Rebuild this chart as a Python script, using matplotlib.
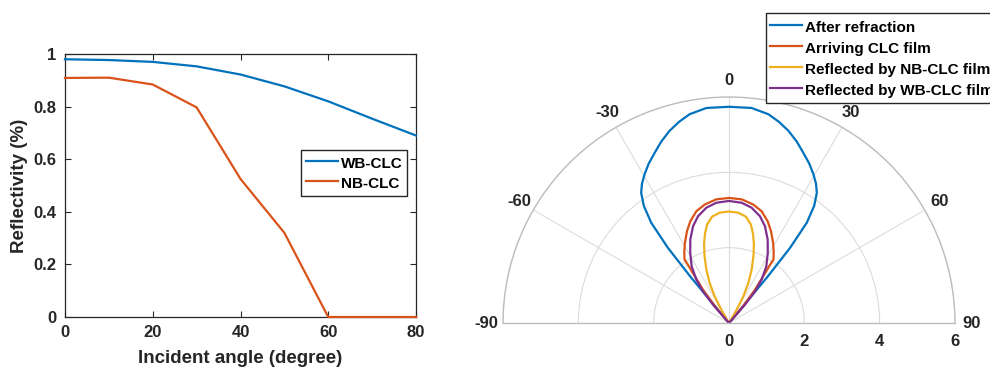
import numpy as np
import matplotlib
matplotlib.use('Agg')
import matplotlib.pyplot as plt

plt.rcParams['font.family'] = ['Liberation Sans', 'DejaVu Sans']
plt.rcParams['font.weight'] = 'bold'

# ---------------- data: left panel ----------------
incident_angle = [0, 10, 20, 30, 40, 50, 60, 70, 80]
wb_clc = [0.980, 0.977, 0.970, 0.953, 0.922, 0.877, 0.820, 0.754, 0.690]
nb_clc = [0.909, 0.910, 0.884, 0.797, 0.525, 0.320, 0.0, 0.0, 0.0]
x_ticks = [0, 20, 40, 60, 80]
y_ticks = [0, 0.2, 0.4, 0.6, 0.8, 1.0]
y_tick_labels = ['0', '0.2', '0.4', '0.6', '0.8', '1']

# ---------------- data: right panel (angle in degrees, radius) ----------------
theta_after = [-40, -39.8, -39.1, -37.8, -36, -34, -32, -29.6, -26.7, -23.6, -20.5, -17.2, -14, -10.7, -6, 0,
               6, 10.7, 14, 17.2, 20.5, 23.6, 26.7, 29.6, 32, 34, 36, 37.8, 39.1, 39.8, 40]
r_after = [0, 1.6, 2.57, 3.37, 3.85, 4.17, 4.36, 4.54, 4.74, 4.93, 5.14, 5.34, 5.50, 5.64, 5.74, 5.74,
           5.74, 5.64, 5.50, 5.34, 5.14, 4.93, 4.74, 4.54, 4.36, 4.17, 3.85, 3.37, 2.57, 1.6, 0]

theta_arriving = [-41, -40.2, -38, -35.2, -35, -32, -28.8, -24.6, -20.8, -16.3, -11.6, -5.9, 0,
                  5.9, 11.6, 16.3, 20.8, 24.6, 28.8, 32, 35, 35.2, 38, 40.2, 41]
r_arriving = [0, 0.52, 1.12, 1.90, 2.06, 2.24, 2.43, 2.68, 2.89, 3.09, 3.21, 3.30, 3.32,
              3.30, 3.21, 3.09, 2.89, 2.68, 2.43, 2.24, 2.06, 1.90, 1.12, 0.52, 0]

theta_nb = [-31, -30, -28.3, -25.8, -23, -20, -17.5, -15, -12.5, -9, -4.8, 0,
            4.8, 9, 12.5, 15, 17.5, 20, 23, 25.8, 28.3, 30, 31]
r_nb = [0, 0.41, 0.80, 1.18, 1.54, 1.90, 2.20, 2.46, 2.68, 2.86, 2.94, 2.96,
        2.94, 2.86, 2.68, 2.46, 2.20, 1.90, 1.54, 1.18, 0.80, 0.41, 0]

theta_wb = [-42, -41.1, -39.4, -37, -33.4, -28.9, -24.9, -20.4, -16.2, -11.1, -6, 0,
            6, 11.1, 16.2, 20.4, 24.9, 28.9, 33.4, 37, 39.4, 41.1, 42]
r_wb = [0, 0.65, 1.09, 1.44, 1.80, 2.13, 2.44, 2.74, 2.95, 3.12, 3.21, 3.24,
        3.21, 3.12, 2.95, 2.74, 2.44, 2.13, 1.80, 1.44, 1.09, 0.65, 0]

theta_ticks = [-90, -60, -30, 0, 30, 60, 90]
theta_tick_labels = ['-90', '-60', '-30', '0', '30', '60', '90']
r_ticks = [0, 2, 4, 6]
r_tick_labels = ['0', '2', '4', '6']

TXT = '#262626'
BLUE, ORANGE, YELLOW, PURPLE = '#0072BD', '#D95319', '#EDB120', '#7E2F8E'

fig = plt.figure(figsize=(9.9, 3.67), dpi=100)

# ---------------- left panel ----------------
ax = fig.add_axes([65 / 990, 1 - 317 / 367, 351 / 990, 263 / 367])
ax.plot(incident_angle, wb_clc, color=BLUE, lw=1.6, label='WB-CLC', zorder=3, clip_on=False)
ax.plot(incident_angle, nb_clc, color=ORANGE, lw=1.6, label='NB-CLC', zorder=3, clip_on=False)
ax.set_xlim(0, 80)
ax.set_ylim(0, 1)
ax.set_xticks(x_ticks)
ax.set_xticklabels([str(v) for v in x_ticks])
ax.set_yticks(y_ticks)
ax.set_yticklabels(y_tick_labels)
ax.tick_params(direction='in', top=True, right=True, length=4, width=0.8,
               labelsize=12, colors=TXT, pad=6)
for s in ax.spines.values():
    s.set_color(TXT)
    s.set_linewidth(0.9)
ax.set_xlabel('Incident angle (degree)', fontsize=13.5, color=TXT, fontweight='bold')
ax.set_ylabel('Reflectivity (%)', fontsize=13.5, color=TXT, fontweight='bold')
ax.xaxis.set_label_coords(0.5, -0.125)
ax.yaxis.set_label_coords(-0.105, 0.5)
leg = ax.legend(loc='upper left', bbox_to_anchor=(301 / 990, 1 - 150 / 367),
                bbox_transform=fig.transFigure, fontsize=11, fancybox=False,
                edgecolor=TXT, borderaxespad=0, handlelength=2.1, handletextpad=0.2,
                handleheight=1.31, labelspacing=0.2, borderpad=0.3, framealpha=1)
leg.get_frame().set_linewidth(1.0)

# ---------------- right panel (polar) ----------------
# square box so that the half disc (2:1) fills its width
pax = fig.add_axes([503 / 990, 1 - 436 / 367, 452 / 990, 452 / 367], projection='polar')
pax.set_theta_zero_location('N')
pax.set_theta_direction(-1)
pax.set_thetamin(-90)
pax.set_thetamax(90)
pax.set_rlim(0, 6)
l1, = pax.plot(np.deg2rad(theta_after), r_after, color=BLUE, lw=1.6, label='After refraction')
l2, = pax.plot(np.deg2rad(theta_arriving), r_arriving, color=ORANGE, lw=1.6, label='Arriving CLC film')
l3, = pax.plot(np.deg2rad(theta_nb), r_nb, color=YELLOW, lw=1.6, label='Reflected by NB-CLC film')
l4, = pax.plot(np.deg2rad(theta_wb), r_wb, color=PURPLE, lw=1.6, label='Reflected by WB-CLC film')
pax.set_thetagrids(theta_ticks, theta_tick_labels, fontsize=12, color=TXT, fontweight='bold')
pax.set_rgrids([2, 4, 6], labels=['', '', ''])
pax.grid(color='#dcdcdc', lw=0.8)
for key in ['polar', 'start', 'end']:
    pax.spines[key].set_color('#bdbdbd')
    pax.spines[key].set_linewidth(1.0)
pax.tick_params(axis='x', pad=1.5)
for v, lab in zip(r_ticks, r_tick_labels):
    pax.annotate(lab, xy=(np.deg2rad(90), v), xytext=(0, -8), textcoords='offset points',
                 ha='center', va='top', fontsize=12, color=TXT, fontweight='bold',
                 annotation_clip=False)

leg2 = pax.legend(handles=[l1, l2, l3, l4], loc='upper left',
                  bbox_to_anchor=(765.5 / 990, 1 - 13.3 / 367), bbox_transform=fig.transFigure,
                  fontsize=11, fancybox=False, edgecolor=TXT, borderaxespad=0,
                  handlelength=2.1, handletextpad=0.2, handleheight=1.36, labelspacing=0.25,
                  borderpad=0.3, framealpha=1)
leg2.get_frame().set_linewidth(1.0)

fig.savefig('out.png', dpi=100)
